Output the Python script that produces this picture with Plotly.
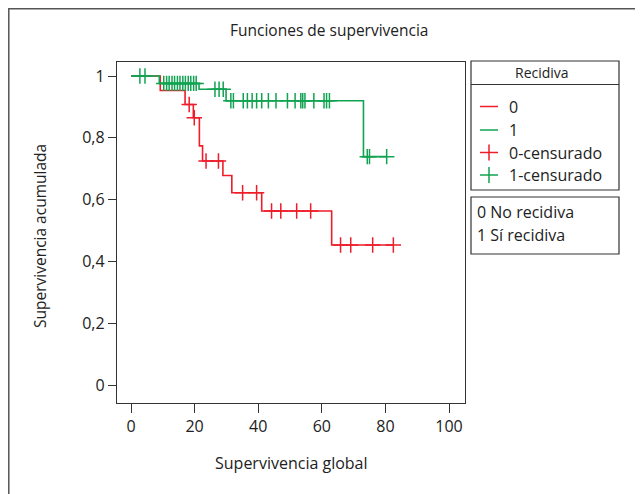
import numpy as np
import plotly.graph_objects as go

# ---- data ----
red_drop_t = [9.2, 17.0, 19.6, 21.5, 22.5, 28.9, 31.7, 41.1, 63.1]
red_drop_s = [0.953, 0.908, 0.865, 0.774, 0.725, 0.678, 0.622, 0.563, 0.453]
red_end_t = 82.5
red_cens_t = [18.3, 19.9, 23.6, 27.5, 35.1, 39.5, 44.2, 47.1, 52.1, 56.5,
              65.9, 69.1, 76.0, 82.5]

green_drop_t = [8.9, 21.4, 29.9, 73.1]
green_drop_s = [0.976, 0.957, 0.920, 0.739]
green_end_t = 80.4
green_cens_t = [2.8, 4.4, 10.3, 11.2, 12.0, 12.9, 13.7, 14.6, 15.4, 16.3, 17.1,
                18.0, 18.8, 19.7, 20.5, 26.4, 27.7, 29.0, 31.4, 32.2, 35.3, 36.6,
                38.1, 39.5, 41.1, 43.2, 45.6, 49.2, 51.6, 53.4, 54.0, 54.7, 57.5,
                60.7, 61.5, 62.4, 74.3, 75.0, 80.4]

x_ticks = [0, 20, 40, 60, 80, 100]
y_ticks = [0, 0.2, 0.4, 0.6, 0.8, 1]
y_tick_text = ["0", "0,2", "0,4", "0,6", "0,8", "1"]

legend_labels = ["0", "1", "0-censurado", "1-censurado"]
note_labels = ["0 No recidiva", "1 Sí recidiva"]

RED = "#ee1d2a"
GREEN = "#12a352"
FONT = "Open Sans"

# page offset of the plotly div (default body margin)
OX, OY = 8, 8
W, H = 643 - OX, 494 - OY
# plot frame in page pixels
L, R, T, B = 117, 465, 62, 403


def px(x):
    return (x - L) / (R - L)


def py(y):
    return (B - y) / (B - T)


def step(drop_t, drop_s, end_t):
    xs = [0.0] + list(drop_t) + [end_t]
    ys = [1.0] + list(drop_s) + [drop_s[-1]]
    return xs, ys


def surv_at(t, drop_t, drop_s):
    idx = np.searchsorted(np.array(drop_t), t, side="right")
    return 1.0 if idx == 0 else drop_s[idx - 1]


fig = go.Figure()
for dt, ds, et, ct, col in [(red_drop_t, red_drop_s, red_end_t, red_cens_t, RED),
                            (green_drop_t, green_drop_s, green_end_t, green_cens_t, GREEN)]:
    xs, ys = step(dt, ds, et)
    fig.add_trace(go.Scatter(x=xs, y=ys, mode="lines", line=dict(color=col, width=1.6, shape="hv"),
                             showlegend=False, hoverinfo="skip"))
    cy = [surv_at(t, dt, ds) for t in ct]
    fig.add_trace(go.Scatter(x=ct, y=cy, mode="markers",
                             marker=dict(symbol="cross-thin", size=11, line=dict(color=col, width=1.5)),
                             showlegend=False, hoverinfo="skip"))

shapes = []
annots = []
# outer frame (top and left edges visible)
shapes.append(dict(type="rect", xref="paper", yref="paper", x0=px(8.8), x1=px(700), y0=py(560), y1=py(8.8),
                   line=dict(color="#555555", width=1.5), layer="below"))
# legend box 1
shapes.append(dict(type="rect", xref="paper", yref="paper", x0=px(471), x1=px(619), y0=py(190), y1=py(61),
                   line=dict(color="#333333", width=1.2)))
shapes.append(dict(type="line", xref="paper", yref="paper", x0=px(471), x1=px(619), y0=py(84.5), y1=py(84.5),
                   line=dict(color="#333333", width=1.2)))
# legend box 2
shapes.append(dict(type="rect", xref="paper", yref="paper", x0=px(471), x1=px(619), y0=py(254), y1=py(197),
                   line=dict(color="#333333", width=1.2)))

annots.append(dict(text="Recidiva", x=px(542), y=py(72.5), xref="paper", yref="paper", showarrow=False,
                   font=dict(size=14, color="#222"), xanchor="center", yanchor="middle"))
rows = [106.5, 130, 152.5, 175]
cols = [RED, GREEN, RED, GREEN]
for i, (lab, yy, cc) in enumerate(zip(legend_labels, rows, cols)):
    shapes.append(dict(type="line", xref="paper", yref="paper", x0=px(480), x1=px(498), y0=py(yy), y1=py(yy),
                       line=dict(color=cc, width=1.5)))
    if i >= 2:
        shapes.append(dict(type="line", xref="paper", yref="paper", x0=px(489), x1=px(489), y0=py(yy - 8),
                           y1=py(yy + 8), line=dict(color=cc, width=1.5)))
    annots.append(dict(text=lab, x=px(507), y=py(yy), xref="paper", yref="paper", showarrow=False,
                       font=dict(size=16, color="#222"), xanchor="left", yanchor="middle"))
for lab, yy in zip(note_labels, [211.5, 235]):
    annots.append(dict(text=lab, x=px(475), y=py(yy), xref="paper", yref="paper", showarrow=False,
                       font=dict(size=16, color="#222"), xanchor="left", yanchor="middle"))

annots.append(dict(text="Funciones de supervivencia", x=px(329), y=py(30), xref="paper", yref="paper",
                   showarrow=False, font=dict(size=15.5, color="#222"), xanchor="center", yanchor="middle"))
annots.append(dict(text="Supervivencia global", x=px(291), y=py(463), xref="paper", yref="paper",
                   showarrow=False, font=dict(size=16, color="#222"), xanchor="center", yanchor="middle"))
annots.append(dict(text="Supervivencia acumulada", x=px(40), y=py(236), xref="paper", yref="paper",
                   showarrow=False, font=dict(size=15.5, color="#222"), textangle=-90,
                   xanchor="center", yanchor="middle"))

x0v = (L - 131) / 3.18
x1v = (R - 131) / 3.18
y0v = (385 - B) / 309
y1v = (385 - T) / 309

fig.update_layout(
    width=W, height=H,
    margin=dict(l=L - OX, r=W - (R - OX), t=T - OY, b=H - (B - OY), pad=0),
    paper_bgcolor="white", plot_bgcolor="white",
    font=dict(family=FONT, color="#222"),
    showlegend=False,
    shapes=shapes, annotations=annots,
    xaxis=dict(range=[x0v, x1v], tickvals=x_ticks, ticktext=[str(v) for v in x_ticks],
               showgrid=False, zeroline=False, showline=True, mirror=True,
               linecolor="#333333", linewidth=1.3, ticks="outside", ticklen=9, tickwidth=1.3,
               tickcolor="#333333", tickfont=dict(size=16, color="#222")),
    yaxis=dict(range=[y0v, y1v], tickvals=y_ticks, ticktext=y_tick_text,
               showgrid=False, zeroline=False, showline=True, mirror=True,
               linecolor="#333333", linewidth=1.3, ticks="outside", ticklen=8, tickwidth=1.3,
               tickcolor="#333333", tickfont=dict(size=16, color="#222")),
)

fig.write_html("out.html")
